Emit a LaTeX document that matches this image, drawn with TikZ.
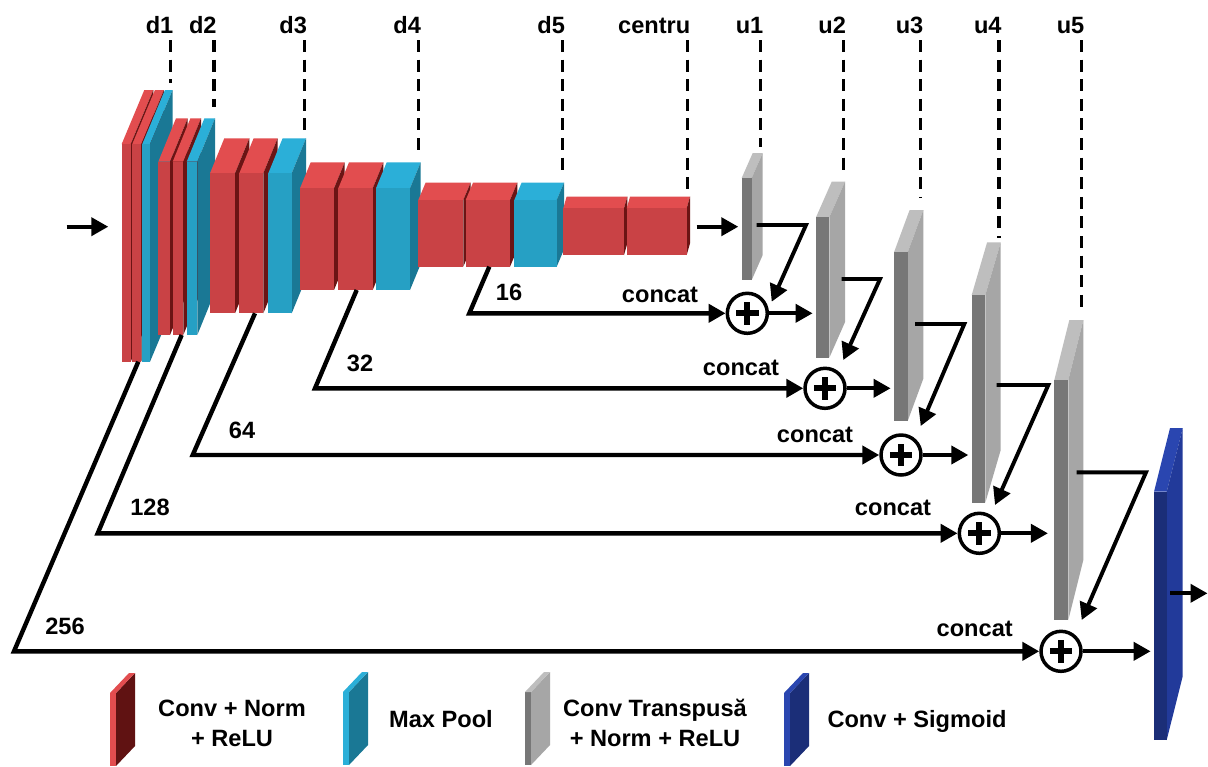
\documentclass[tikz,border=0pt]{standalone}
\usepackage{fontspec}
\setmainfont{Liberation Sans}
\usetikzlibrary{arrows.meta,calc,fit}
\definecolor{redF}{HTML}{C94245}
\definecolor{redT}{HTML}{E24D4F}
\definecolor{redS}{HTML}{6B1414}
\definecolor{cyF}{HTML}{26A0C4}
\definecolor{cyT}{HTML}{2BAFD8}
\definecolor{cyS}{HTML}{1A7895}
\definecolor{grF}{HTML}{777777}
\definecolor{grS}{HTML}{A6A6A6}
\definecolor{grT}{HTML}{BEBEBE}
\definecolor{nvF}{HTML}{1B2E78}
\definecolor{nvS}{HTML}{223A9A}
\definecolor{nvT}{HTML}{2A46B0}
% #1 name, #2 x1, #3 y1, #4 x2, #5 y2, #6 dx, #7 dy, #8 colour prefix
\newcommand\slab[8]{%
  \fill[#8T] (#2,#3) -- (#4,#3) -- ++(#6,#7) -- ++({#2-#4},0) -- cycle;
  \fill[#8S] (#4,#3) -- ++(#6,#7) -- ++(0,{#5-#3}) -- (#4,#5) -- cycle;
  \node[fit={(#2,#3) (#4,#5)}, inner sep=0pt, fill=#8F] (#1) {};
}
% legend icon: #1 x, #2 ytop, #3 strip colour, #4 face colour, #5 top colour
\newcommand\legicon[5]{%
  \fill[#4] (#1+6,#2+20) -- (#1+25,#2) -- (#1+25,#2+73) -- (#1+6,#2+93) -- cycle;
  \fill[#3] (#1,#2+20) rectangle (#1+6,#2+93);
  \fill[#5] (#1,#2+20) -- (#1+6,#2+20) -- (#1+25,#2) -- (#1+19,#2) -- cycle;
}
\begin{document}
\begin{tikzpicture}[x=0.5pt,y=-0.5pt,
  font=\fontsize{11.8}{14.5}\selectfont\bfseries,
  arr/.style={line width=1.95pt,-{Triangle[length=8.5pt,width=9pt]}},
  skip/.style={arr, line width=2.2pt, line join=miter},
  dsh/.style={line width=1.75pt, dash pattern=on 6pt off 3.8pt},
  lab/.style={anchor=base east, inner sep=0pt},
  txt/.style={anchor=base, inner sep=0pt},
  plus/.style={circle, draw, line width=1.75pt, minimum size=20pt, inner sep=0pt, fill=white}]
\useasboundingbox (0,0) rectangle (1208,766);
\fill[white] (0,0) rectangle (1208,766);

% ---------- dashed level markers ----------
\foreach \n/\x/\yb in {d1/170.7/83, d2/214/107, d3/304.3/130, d4/418.3/155,
  d5/562.3/173, centru/687.7/195, u1/760.7/146.7, u2/843.3/173, u3/920.7/198,
  u4/999/238, u5/1081.7/311.7}{
  \coordinate (t-\n) at (\x,40);
  \coordinate (b-\n) at (\x,\yb);
  \draw[dsh] (t-\n) -- (b-\n);
  \node[lab] (l-\n) at (\x+3,33) {\n};
}

% ---------- encoder ----------
\slab{d1a}{121.7}{144}{130.7}{361.7}{22.6}{-54}{red}
\slab{d1b}{132.3}{144}{141.3}{361.7}{22.6}{-54}{red}
\slab{d1c}{142.3}{144}{150}{361.7}{22.6}{-54}{cy}
\slab{d2a}{158.3}{161.7}{170}{335}{17.7}{-43.4}{red}
\slab{d2b}{172.7}{161.7}{183.3}{335}{17.7}{-43.4}{red}
\slab{d2c}{186.7}{161.7}{197.3}{335}{17.7}{-43.4}{cy}
\slab{d3a}{210}{173.3}{235}{313.3}{14.3}{-35}{red}
\slab{d3b}{239.3}{173.3}{263.3}{313.3}{14.3}{-35}{red}
\slab{d3c}{268.3}{173.3}{291.7}{313.3}{14.3}{-35}{cy}
\slab{d4a}{300}{188.3}{334}{290}{10.7}{-26}{red}
\slab{d4b}{338.3}{188.3}{372.7}{290}{10.7}{-26}{red}
\slab{d4c}{376}{188.3}{410}{290}{10.7}{-26}{cy}
\slab{d5a}{418.3}{200}{463.3}{266.7}{7.3}{-17.3}{red}
\slab{d5b}{465.7}{200}{510}{266.7}{7.3}{-17.3}{red}
\slab{d5c}{514.3}{200}{556.7}{266.7}{7.3}{-17.3}{cy}
\slab{ca}{563.3}{208.3}{624}{255}{3.3}{-11.6}{red}
\slab{cb}{626.7}{208.3}{686.7}{255}{3.3}{-11.6}{red}

% ---------- decoder ----------
\slab{u1}{741.7}{178}{751.7}{280}{11}{-25}{gr}
\slab{u2}{816}{217.3}{829.3}{357.7}{15.7}{-35.6}{gr}
\slab{u3}{894}{252.3}{907.7}{421}{15.6}{-42.3}{gr}
\slab{u4}{971.7}{295}{985.3}{502.7}{15.4}{-52.7}{gr}
\slab{u5}{1054.3}{380}{1068.3}{620}{15}{-60}{gr}
\slab{out}{1154}{491.7}{1166.7}{740}{16}{-63.7}{nv}

% ---------- concat circles ----------
\node[plus] (c1) at (747.3,313.3) {};
\node[plus] (c2) at (825,388.3) {};
\node[plus] (c3) at (901,455) {};
\node[plus] (c4) at (979.3,533.3) {};
\node[plus] (c5) at (1061,651.3) {};
\foreach \c in {c1,c2,c3,c4,c5}{
  \draw[line width=3pt] ($(\c)+(-5.6pt,0)$) -- ($(\c)+(5.6pt,0)$);
  \draw[line width=3pt] ($(\c)+(0,-5.6pt)$) -- ($(\c)+(0,5.6pt)$);
}

% ---------- input / bottleneck / output arrows ----------
\coordinate (in0) at (66.7,226.7);
\coordinate (in1) at (108.3,226.7);
\draw[arr] (in0) -- (in1);
\coordinate (cu0) at (696.7,226.7);
\draw[arr, shorten >=1.5pt] (cu0) -- (cu0 -| u1.west);
\coordinate (o0) at (1170,593.3);
\coordinate (o1) at (1207.5,593.3);
\draw[arr] (o0) -- (o1);

% ---------- skip connections ----------
\coordinate (s16a) at (489.3,266.7);  \coordinate (s16b) at (469.3,313.3);
\coordinate (s32a) at (356.7,290);    \coordinate (s32b) at (315,388.3);
\coordinate (s64a) at (255,313.3);    \coordinate (s64b) at (192.7,455);
\coordinate (s128a) at (181.7,335);   \coordinate (s128b) at (97.7,533.3);
\coordinate (s256a) at (138.3,361.7); \coordinate (s256b) at (14,651.3);
\draw[skip] (s16a) -- (s16b) -- (c1);
\draw[skip] (s32a) -- (s32b) -- (c2);
\draw[skip] (s64a) -- (s64b) -- (c3);
\draw[skip] (s128a) -- (s128b) -- (c4);
\draw[skip] (s256a) -- (s256b) -- (c5);

\node[txt] (n16) at (509,300) {16};
\node[txt] (n32) at (360,371.7) {32};
\node[txt] (n64) at (242,438.3) {64};
\node[txt] (n128) at (150,515) {128};
\node[txt] (n256) at (65,634) {256};

\node[txt] (k1) at (660,302) {concat};
\node[txt] (k2) at (741,375) {concat};
\node[txt] (k3) at (815,442.7) {concat};
\node[txt] (k4) at (893,515) {concat};
\node[txt] (k5) at (974.7,636) {concat};

% ---------- decoder internal connections ----------
\coordinate (e1a) at (756.7,225);   \coordinate (e1b) at (806,225);    \coordinate (e1c) at (771.7,301.7);
\coordinate (e2a) at (841.7,279);   \coordinate (e2b) at (880,279);    \coordinate (e2c) at (843.3,360);
\coordinate (e3a) at (915,324);     \coordinate (e3b) at (964.3,324);  \coordinate (e3c) at (920.7,426);
\coordinate (e4a) at (996.7,385);   \coordinate (e4b) at (1048.3,385); \coordinate (e4c) at (995,505);
\coordinate (e5a) at (1076.7,472.3);\coordinate (e5b) at (1146,472.3); \coordinate (e5c) at (1081.7,620);
\foreach \i in {1,...,5}{
  \draw[arr, line join=miter] (e\i a) -- (e\i b) -- (e\i c);
}
\draw[arr, shorten >=1.5pt] (c1) -- (c1 -| u2.west);
\draw[arr, shorten >=1.5pt] (c2) -- (c2 -| u3.west);
\draw[arr, shorten >=1.5pt] (c3) -- (c3 -| u4.west);
\draw[arr, shorten >=3pt] (c4) -- (c4 -| u5.west);
\draw[arr, shorten >=1.5pt] (c5) -- (c5 -| out.west);

% ---------- legend ----------
\legicon{110}{673}{redT}{redS!90!black}{redT}
\legicon{343}{672}{cyT}{cyS}{cyT}
\legicon{525}{672}{grF}{grS}{grT}
\legicon{784}{673}{nvT}{nvF}{nvT}
\node[txt] (g1a) at (232,716) {Conv + Norm};
\node[txt] (g1b) at (232,746) {+ ReLU};
\node[txt] (g2) at (441,727) {Max Pool};
\node[txt] (g3a) at (655,716) {Conv Transpusă};
\node[txt] (g3b) at (655,746) {+ Norm + ReLU};
\node[txt] (g4) at (917,727) {Conv + Sigmoid};
\end{tikzpicture}
\end{document}
